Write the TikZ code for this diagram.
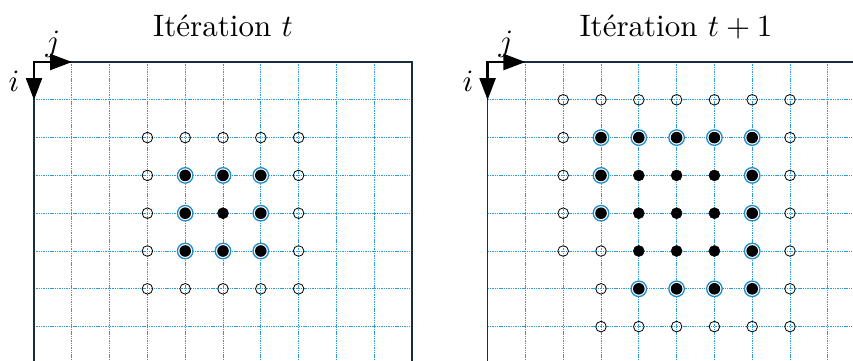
\documentclass[tikz,border=0pt]{standalone}
\usepackage{fontspec}
\usepackage{graphicx}
\usetikzlibrary{arrows.meta}
\definecolor{gridblue}{RGB}{45,155,215}
\definecolor{ringblue}{RGB}{30,140,205}
\definecolor{framecol}{RGB}{25,45,65}
\newcommand{\bigtxt}[1]{\scalebox{3.1}{#1}}
\begin{document}
\begin{tikzpicture}[x=1pt,y=-1pt,
  gridline/.style={gridblue, line width=1pt, dash pattern=on 1.4pt off 0.9pt},
  frame/.style={framecol, line width=1.2pt},
  opendot/.style={circle, draw=black, line width=0.8pt, inner sep=0pt, minimum size=10.6pt},
  filldot/.style={circle, draw=black, fill=black, line width=0.5pt, inner sep=0pt, minimum size=11pt},
  ringdot/.style={circle, draw=ringblue, fill=white, line width=1.3pt, inner sep=0pt, minimum size=15.5pt,
    path picture={\fill[black] (path picture bounding box.center) circle (5.8pt);}},
  axis/.style={{Triangle[length=22pt,width=16pt]}-{Triangle[length=22pt,width=16pt]}, line width=2.4pt, line join=miter},
  lbl/.style={inner sep=0pt, anchor=base}]
\useasboundingbox (0,0) rectangle (853,360);
\clip (0,0) rectangle (853,360);
\def\s{37.8}
% panels
\foreach \ox/\P in {34/L, 487.6/R}{
  \foreach \k in {1,...,9}{
    \draw[gridline] ({\ox+\k*\s},62) -- ({\ox+\k*\s},{62+10*\s});
    \draw[gridline] (\ox,{62+\k*\s}) -- ({\ox+10*\s},{62+\k*\s});
  }
  \draw[frame] (\ox,62) rectangle ({\ox+10*\s},{62+10*\s});
}
% left panel dots
\foreach \r/\c in {2/3,2/4,2/5,2/6,2/7,6/3,6/4,6/5,6/6,6/7,3/3,4/3,5/3,3/7,4/7,5/7}
  \node[opendot] (L-\r-\c) at ({34+\c*\s},{62+\r*\s}) {};
\foreach \r/\c in {3/4,3/5,3/6,4/4,4/6,5/4,5/5,5/6}
  \node[ringdot] (L-\r-\c) at ({34+\c*\s},{62+\r*\s}) {};
\foreach \r/\c in {4/5}
  \node[filldot] (L-\r-\c) at ({34+\c*\s},{62+\r*\s}) {};
% right panel dots
\foreach \r/\c in {1/2,1/3,1/4,1/5,1/6,1/7,1/8,2/2,2/8,3/2,3/8,4/2,4/8,5/2,5/3,5/8,6/3,6/8,7/3,7/4,7/5,7/6,7/7,7/8}
  \node[opendot] (R-\r-\c) at ({487.6+\c*\s},{62+\r*\s}) {};
\foreach \r/\c in {2/3,2/4,2/5,2/6,2/7,3/3,3/7,4/3,4/7,5/7,6/4,6/5,6/6,6/7}
  \node[ringdot] (R-\r-\c) at ({487.6+\c*\s},{62+\r*\s}) {};
\foreach \r/\c in {3/4,3/5,3/6,4/4,4/5,4/6,5/4,5/5,5/6}
  \node[filldot] (R-\r-\c) at ({487.6+\c*\s},{62+\r*\s}) {};
% axes
\coordinate (OL) at (34,62);
\coordinate (JL) at (72,62);
\coordinate (IL) at (34,100);
\coordinate (OR) at (487.6,62);
\coordinate (JR) at (525.4,62);
\coordinate (IR) at (487.6,100);
\draw[axis] (JL) -- (OL) -- (IL);
\draw[axis] (JR) -- (OR) -- (IR);
\node[lbl] (jL) at (53,51) {\bigtxt{$j$}};
\node[lbl] (iL) at (14,91) {\bigtxt{$i$}};
\node[lbl] (jR) at (506,51) {\bigtxt{$j$}};
\node[lbl] (iR) at (468,91) {\bigtxt{$i$}};
% titles
\node[lbl] (tL) at (223,36) {\bigtxt{Itération $t$}};
\node[lbl] (tR) at (676,36) {\bigtxt{Itération $t+1$}};
\end{tikzpicture}
\end{document}
